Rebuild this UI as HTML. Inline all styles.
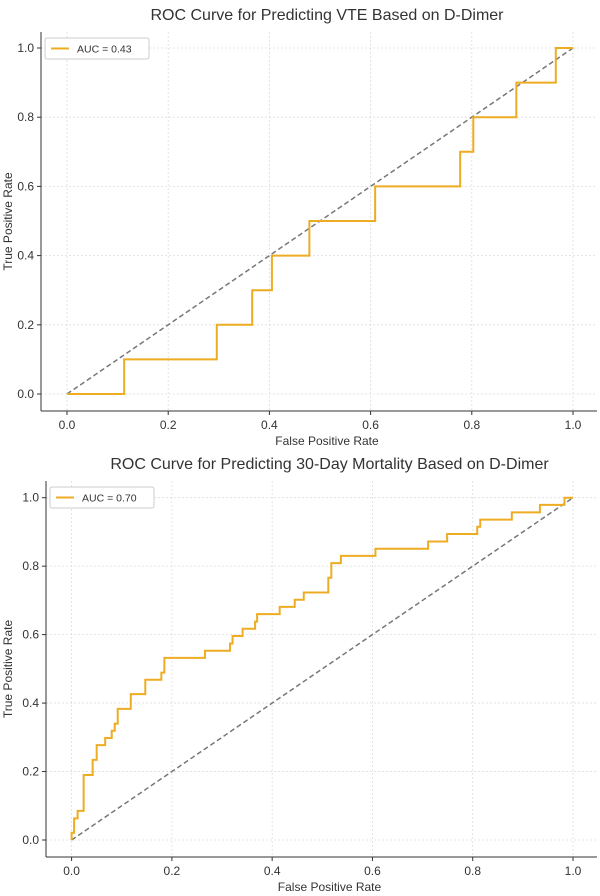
<!DOCTYPE html>
<html><head><meta charset="utf-8"><style>
body{margin:0;background:#fff;}
svg{display:block;font-family:"Liberation Sans","DejaVu Sans",sans-serif;}
</style></head><body>
<svg id="s" width="600" height="896" viewBox="0 0 600 896"></svg>
<script>
const ticks=[0,0.2,0.4,0.6,0.8,1.0];
const tickLabels=["0.0","0.2","0.4","0.6","0.8","1.0"];
const vteFpr=[0,0.113,0.113,0.296,0.296,0.366,0.366,0.405,0.405,0.479,0.479,0.609,0.609,0.777,0.777,0.803,0.803,0.888,0.888,0.966,0.966,1];
const vteTpr=[0,0,0.1,0.1,0.2,0.2,0.3,0.3,0.4,0.4,0.5,0.5,0.6,0.6,0.7,0.7,0.8,0.8,0.9,0.9,1.0,1.0];
const morStepX=[0,0.005,0.012,0.024,0.042,0.05,0.067,0.08,0.086,0.092,0.118,0.147,0.179,0.185,0.266,0.316,0.321,0.341,0.366,0.37,0.415,0.445,0.463,0.512,0.518,0.537,0.606,0.711,0.749,0.809,0.815,0.878,0.934,0.983];
const morStepY=[0.021,0.063,0.085,0.19,0.234,0.277,0.298,0.319,0.34,0.383,0.426,0.468,0.489,0.532,0.553,0.574,0.596,0.617,0.638,0.66,0.681,0.702,0.723,0.766,0.809,0.83,0.851,0.872,0.894,0.915,0.936,0.957,0.979,1.0];
const NS="http://www.w3.org/2000/svg";
const svg=document.getElementById('s');
function mk(t,a,p){const e=document.createElementNS(NS,t);for(const k in a)e.setAttribute(k,a[k]);(p||svg).appendChild(e);return e;}
function chart(o,title,auc,fx,fy,name){
  const g=mk('g',{});
  
  
  const X=v=>o.x0+v*(o.x1-o.x0), Y=v=>o.y0+v*(o.y1-o.y0);
  ticks.forEach((t,i)=>{
    const gx=mk('line',{x1:X(t),x2:X(t),y1:o.top,y2:o.bot,stroke:'#ddd','stroke-width':0.8,'stroke-dasharray':'2,2'},g);
    
    const gy=mk('line',{x1:o.left,x2:o.right,y1:Y(t),y2:Y(t),stroke:'#ddd','stroke-width':0.8,'stroke-dasharray':'2,2'},g);
    
    mk('line',{x1:X(t),x2:X(t),y1:o.bot,y2:o.bot+4,stroke:'#333'},g);
    mk('line',{x1:o.left-4,x2:o.left,y1:Y(t),y2:Y(t),stroke:'#333'},g);
    const xl=mk('text',{x:X(t),y:o.bot+18,'text-anchor':'middle','font-size':12,fill:'#333'},g);xl.textContent=tickLabels[i];
    
    const yl=mk('text',{x:o.left-7,y:Y(t)+4,'text-anchor':'end','font-size':12,fill:'#333'},g);yl.textContent=tickLabels[i];
    
  });
  mk('line',{x1:o.left,x2:o.left,y1:o.top,y2:o.bot,stroke:'#333','stroke-width':1},g);
  mk('line',{x1:o.left,x2:o.right,y1:o.bot,y2:o.bot,stroke:'#333','stroke-width':1},g);
  const d=mk('line',{x1:X(0),y1:Y(0),x2:X(1),y2:Y(1),stroke:'#777','stroke-width':1.5,'stroke-dasharray':'5,3'},g);
  
  const p=mk('polyline',{points:fx.map((v,i)=>X(v)+','+Y(fy[i])).join(' '),fill:'none',stroke:'#eeac22','stroke-width':2},g);
  
  const tt=mk('text',{x:(o.left+o.right)/2+8,y:o.top-12,'text-anchor':'middle','font-size':16,fill:'#333'},g);tt.textContent=title;
  
  const xt=mk('text',{x:(o.left+o.right)/2+8,y:o.bot+34,'text-anchor':'middle','font-size':12,fill:'#333'},g);xt.textContent='False Positive Rate';
  
  const yc=(o.top+o.bot)/2;
  const yt=mk('text',{x:12,y:yc,'text-anchor':'middle','font-size':12,fill:'#333',transform:'rotate(-90 12 '+yc+')'},g);yt.textContent='True Positive Rate';
  
  const lg=mk('g',{},g);
  
  mk('rect',{x:o.left+4,y:o.top+6,width:104,height:21,rx:2,fill:'#fff',stroke:'#ccc'},lg);
  mk('line',{x1:o.left+10,x2:o.left+28,y1:o.top+16.5,y2:o.top+16.5,stroke:'#eeac22','stroke-width':2},lg);
  const lt=mk('text',{x:o.left+36,y:o.top+20.5,'font-size':10.5,fill:'#333'},lg);lt.textContent='AUC = '+auc;
}
chart({x0:67,x1:573,y0:394,y1:48,left:41,right:597,top:32,bot:411},'ROC Curve for Predicting VTE Based on D-Dimer','0.43',vteFpr,vteTpr,'vte-roc-chart');
const mx=[0],my=[0];
morStepX.forEach((v,i)=>{mx.push(v,v);my.push(i?morStepY[i-1]:0,morStepY[i]);});
mx.push(1);my.push(1.0);
chart({x0:71.6,x1:573,y0:840,y1:497.7,left:46,right:597,top:481,bot:857},'ROC Curve for Predicting 30-Day Mortality Based on D-Dimer','0.70',mx,my,'mortality-roc-chart');
</script>
</body></html>
